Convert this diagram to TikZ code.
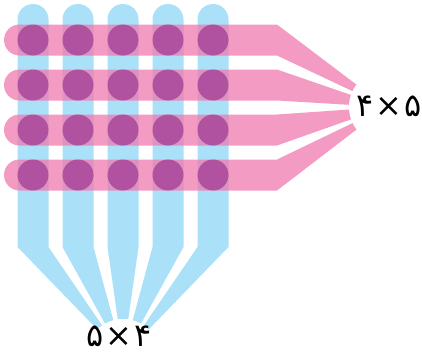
\documentclass[tikz,border=0pt]{standalone}
\usepackage{fontspec}
\newfontfamily\digitfont{DejaVu Sans}
\usetikzlibrary{positioning, calc}

\definecolor{colblue}{RGB}{171,224,249}
\definecolor{rowpink}{RGB}{239,122,174}
\definecolor{dotpurple}{RGB}{176,82,160}

\begin{document}
\begin{tikzpicture}[
            x=1pt, y=-1pt,
            colbar/.style   = {fill=colblue, draw=none},
            rowbar/.style   = {fill=rowpink, fill opacity=0.75, draw=none},
            dot/.style      = {circle, fill=dotpurple, draw=none, inner sep=0pt, minimum size=31pt},
            dimlabel/.style = {font=\digitfont\fontsize{32}{32}\selectfont, inner sep=0pt}
        ]
        \useasboundingbox (0,0) rectangle (422,356);
        \coordinate (rowfocus) at (386,107);
        \coordinate (colfocus) at (123,356);

        % five columns, fanning in at the bottom
        \foreach \i in {0,...,4} {
            \pgfmathsetmacro{\cx}{33+45*\i}
            \fill[colbar] (\cx-15.5,247) -- (\cx-15.5,19.5) arc (180:360:15.5)
                -- (\cx+15.5,247) -- (colfocus) -- cycle;
        }

        % four rows, fanning in at the right
        \foreach \j in {0,...,3} {
            \pgfmathsetmacro{\cy}{40+45*\j}
            \fill[rowbar] (19.5,\cy+15.5) arc (90:270:15.5) -- (277,\cy-15.5)
                -- (rowfocus) -- (277,\cy+15.5) -- cycle;
        }

        \foreach \i in {0,...,4}
            \foreach \j in {0,...,3}
                \node (dot\i\j) [dot] at ({33+45*\i},{40+45*\j}) {};

        \fill[white] (rowfocus) circle (37);
        \fill[white] (colfocus) circle (37);

        \node (rowlabel) [dimlabel] at (389,106) {۴\hspace{2pt}×\hspace{2pt}۵};
        \node (collabel) [dimlabel] at (119,336) {۵\hspace{2pt}×\hspace{2pt}۴};
    \end{tikzpicture}
\end{document}
